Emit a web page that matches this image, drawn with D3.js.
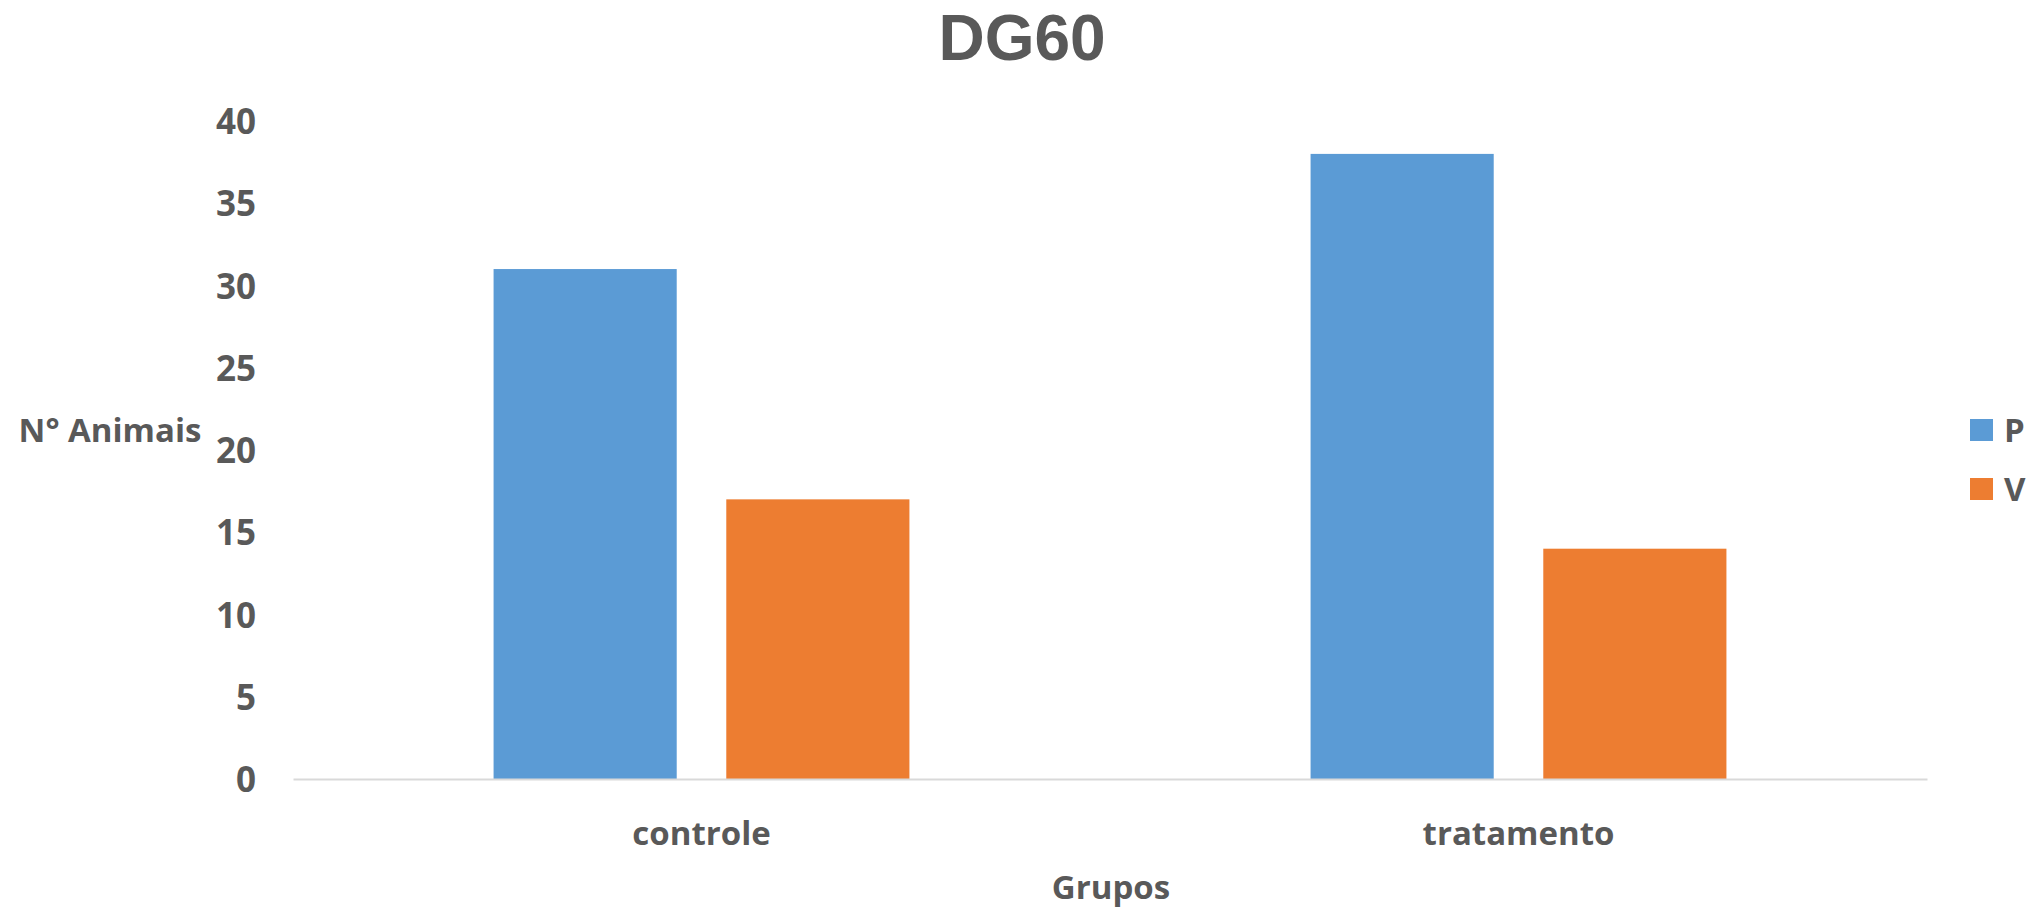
<!DOCTYPE html>
<html><head><meta charset="utf-8">
<script src="https://cdn.jsdelivr.net/npm/d3@7/dist/d3.min.js"></script>
<style>html,body{margin:0;padding:0;background:#fff;}svg{display:block;}</style>
</head><body>
<script>
const title = "DG60";
const categories = ["controle", "tratamento"];
const seriesNames = ["P", "V"];
const seriesP = [31, 38];
const seriesV = [17, 14];
const yTicks = [0, 5, 10, 15, 20, 25, 30, 35, 40];
const xTitle = "Grupos";
const yTitle = "N° Animais";
const colors = ["#5B9BD5", "#ED7D31"];

const W = 2043, H = 911;
const font = "'Open Sans', sans-serif";
const textColor = "#595959";
const svg = d3.select("body").append("svg").attr("width", W).attr("height", H);

const plot = {left: 293, right: 1927, top: 121, bottom: 779};
const y = d3.scaleLinear().domain([0, 40]).range([plot.bottom, plot.top]);
const x0 = d3.scaleBand().domain(categories).range([plot.left, plot.right]).paddingInner(0.491).paddingOuter(0.2455);
const x1 = d3.scaleBand().domain(seriesNames).range([0, x0.bandwidth()]).paddingInner(0.213);
const color = d3.scaleOrdinal().domain(seriesNames).range(colors);

const data = categories.map((c, i) => ({cat: c, vals: [{s: "P", v: seriesP[i]}, {s: "V", v: seriesV[i]}]}));

// title
svg.append("text").attr("x", 1022).attr("y", 60).attr("text-anchor", "middle")
  .attr("font-family", "'Liberation Sans', Arial, sans-serif").attr("font-weight", 700).attr("font-size", 64)
  .attr("fill", textColor).text(title);

// y axis ticks (labels only)
const yAxis = d3.axisLeft(y).tickValues(yTicks).tickSize(0).tickPadding(0);
const gy = svg.append("g").attr("transform", `translate(256,0)`).call(yAxis);
gy.select(".domain").remove();
gy.selectAll("text").attr("font-family", font).attr("font-weight", 700).attr("font-size", 35)
  .attr("fill", textColor).attr("dy", "0.36em");

// bars
const groups = svg.append("g").selectAll("g").data(data).join("g")
  .attr("transform", d => `translate(${x0(d.cat)},0)`);
groups.selectAll("rect").data(d => d.vals).join("rect")
  .attr("x", d => x1(d.s)).attr("width", x1.bandwidth())
  .attr("y", d => y(d.v)).attr("height", d => y(0) - y(d.v))
  .attr("fill", d => color(d.s));

// x axis
const xAxis = d3.axisBottom(x0).tickSize(0).tickPadding(0);
const gx = svg.append("g").attr("transform", `translate(0,${plot.bottom})`).call(xAxis);
gx.select(".domain").attr("stroke", "#D9D9D9").attr("stroke-width", 2);
gx.selectAll("text").attr("font-family", font).attr("font-weight", 700).attr("font-size", 33)
  .attr("fill", textColor).attr("y", 66).attr("dy", 0);

// axis titles
svg.append("text").attr("x", 1111).attr("y", 899).attr("text-anchor", "middle")
  .attr("font-family", font).attr("font-weight", 700).attr("font-size", 33).attr("fill", textColor).text(xTitle);
svg.append("text").attr("x", 110).attr("y", 442).attr("text-anchor", "middle")
  .attr("font-family", font).attr("font-weight", 700).attr("font-size", 33).attr("fill", textColor).text(yTitle);

// legend
const legY = [430, 489];
const leg = svg.append("g").selectAll("g").data(seriesNames).join("g")
  .attr("transform", (d, i) => `translate(1970,${legY[i]})`);
leg.append("rect").attr("x", 0).attr("y", -11).attr("width", 23).attr("height", 22).attr("fill", d => color(d));
leg.append("text").attr("x", 34).attr("y", 0).attr("dy", "0.36em")
  .attr("font-family", font).attr("font-weight", 700).attr("font-size", 33).attr("fill", textColor).text(d => d);
</script>
</body></html>
